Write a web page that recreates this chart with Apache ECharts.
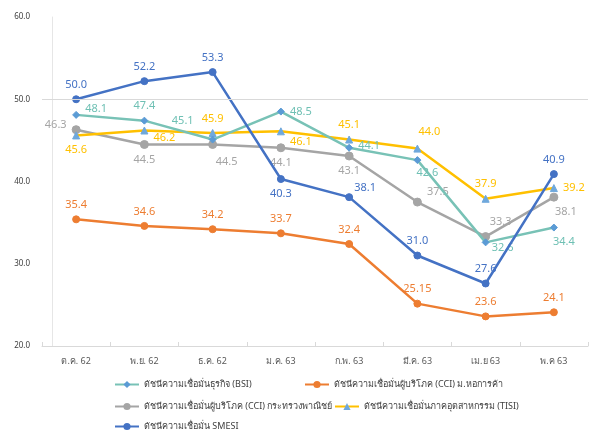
<!DOCTYPE html>
<html><head><meta charset="utf-8">
<script src="https://cdn.jsdelivr.net/npm/echarts@6/dist/echarts.min.js"></script>
<style>html,body{margin:0;padding:0;background:#fff}#c{width:613px;height:434px}</style>
</head><body><div id="c"></div>
<script>
const categories = ['ต.ค. 62','พ.ย. 62','ธ.ค. 62','ม.ค. 63','ก.พ. 63','มี.ค. 63','เม.ย 63','พ.ค 63'];
const seriesNames = ['ดัชนีความเชื่อมั่นธุรกิจ (BSI)','ดัชนีความเชื่อมั่นผู้บริโภค (CCI) ม.หอการค้า','ดัชนีความเชื่อมั่นผู้บริโภค (CCI) กระทรวงพาณิชย์','ดัชนีความเชื่อมั่นภาคอุตสาหกรรม (TISI)','ดัชนีความเชื่อมั่น SMESI'];
const bsi   = [48.1, 47.4, 45.1, 48.5, 44.1, 42.6, 32.6, 34.4];
const cciTC = [35.4, 34.6, 34.2, 33.7, 32.4, 25.15, 23.6, 24.1];
const cciMoc= [46.3, 44.5, 44.5, 44.1, 43.1, 37.5, 33.3, 38.1];
const tisi  = [45.6, 46.2, 45.9, 46.1, 45.1, 44.0, 37.9, 39.2];
const smesi = [50.0, 52.2, 53.3, 40.3, 38.1, 31.0, 27.6, 40.9];
const yTicks = [20, 30, 40, 50, 60];

// label placement (style only)
const lp = {
  bsi:   [['right',[0,-6]],['top',[0,0]],['left',[-10,-19]],['right',[0,0]],['right',[0,-2]],['bottom',[10,-2]],['right',[-3,5]],['bottom',[10,0]]],
  cciTC: [['top',[0,0]],['top',[0,0]],['top',[0,0]],['top',[0,0]],['top',[0,0]],['top',[0,0]],['top',[0,0]],['top',[0,0]]],
  cciMoc:[['left',[0,-5]],['bottom',[0,0]],['bottom',[14,2]],['bottom',[0,0]],['bottom',[0,0]],['right',[0,-10]],['top',[15,0]],['bottom',[12,0]]],
  tisi:  [['bottom',[0,0]],['right',[0,7]],['top',[0,0]],['right',[0,11]],['top',[0,0]],['top',[12,-2]],['top',[0,0]],['right',[0,0]]],
  smesi: [['top',[0,0]],['top',[0,0]],['top',[0,0]],['bottom',[0,0]],['right',[-4,-9]],['top',[0,0]],['top',[0,0]],['top',[0,0]]]
};
function mk(vals, pos){
  return vals.map((v,i)=>({value:v,label:{position:pos[i][0],offset:pos[i][1]}}));
}
const fmt = p => (p.value===25.15 ? '25.15' : Number(p.value).toFixed(1));
function line(name, vals, pos, color, symbol, symSize, markerColor, labelColor, z){
  return {
    name, type:'line', data: mk(vals,pos), symbol, symbolSize: symSize, z,
    lineStyle:{color, width:2.5},
    itemStyle:{color: markerColor, borderColor: markerColor},
    label:{show:true, color: labelColor, fontSize:11, fontFamily:'Liberation Sans Narrow, Noto Sans', formatter: fmt, distance:5},
    emphasis:{disabled:true}, animation:false
  };
}
const chart = echarts.init(document.getElementById('c'));
const series = [
  line(seriesNames[0], bsi, lp.bsi, '#78c2b6', 'diamond', 7, '#5b9bd5', '#6fc0b4', 3),
  line(seriesNames[1], cciTC, lp.cciTC, '#ed7d31', 'circle', 7, '#ed7d31', '#ed7d31', 2),
  line(seriesNames[2], cciMoc, lp.cciMoc, '#a5a5a5', 'circle', 8, '#a5a5a5', '#a5a5a5', 2),
  line(seriesNames[3], tisi, lp.tisi, '#ffc000', 'triangle', 7, '#6fa8dc', '#ffc000', 2),
  line(seriesNames[4], smesi, lp.smesi, '#4472c4', 'circle', 7, '#4472c4', '#4472c4', 4)
];
series[1].markLine = {silent:true, symbol:'none', label:{show:false}, lineStyle:{color:'#d9d9d9', type:'solid', width:1}, data:[{yAxis:50}]};
const legText = {fontSize:9, color:'#404040', fontFamily:'Noto Sans'};
const legPos = [[114,380],[304,380],[114,402],[334,402],[114,422]];
chart.setOption({
  backgroundColor:'#fff',
  animation:false,
  grid:{left:42, right:25, top:17, bottom:88},
  xAxis:{type:'category', data:categories, boundaryGap:true,
    axisLine:{lineStyle:{color:'#d9d9d9'}},
    axisTick:{show:true, inside:true, length:4, lineStyle:{color:'#d9d9d9'}},
    axisLabel:{color:'#595959', fontSize:9, margin:11, fontFamily:'Noto Sans'}},
  yAxis:{type:'value', min:yTicks[0], max:yTicks[yTicks.length-1], interval:10, offset:-10,
    axisLine:{show:true, lineStyle:{color:'#e6e6e6'}}, axisTick:{show:false},
    splitLine:{show:false},
    axisLabel:{color:'#404040', fontSize:8, margin:22, formatter:v=>v.toFixed(1), fontFamily:'Noto Sans'}},
  legend: seriesNames.map((n,i)=>({data:[n], left:legPos[i][0], top:legPos[i][1], padding:0, itemWidth:24, itemHeight:9, textStyle:legText})),
  series
});
</script></body></html>
